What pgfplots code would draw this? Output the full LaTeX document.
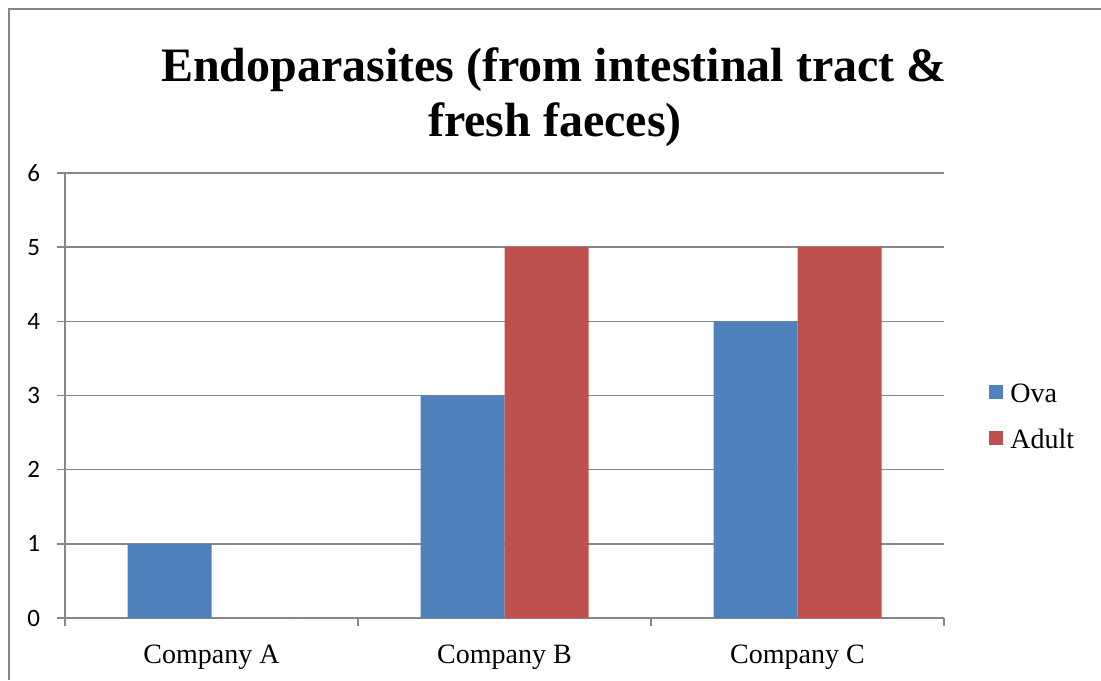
\documentclass[border=0pt]{standalone}
\usepackage{fontspec}
\setmainfont{Liberation Serif}
\newfontfamily\carlito{Carlito}
\usepackage{pgfplots}
\pgfplotsset{compat=1.18}
\definecolor{ova}{HTML}{4F81BD}
\definecolor{adult}{HTML}{C0504D}
\definecolor{gridgray}{HTML}{878787}
\begin{document}
\begin{tikzpicture}
\useasboundingbox (0,0) rectangle (550.5pt,340pt);
\draw[gridgray, line width=1pt] (4.5pt,0) -- (4.5pt,335.5pt) -- (550.5pt,335.5pt);
\begin{axis}[
  at={(32.5pt,31pt)}, anchor=south west,
  scale only axis, width=439.5pt, height=222.5pt,
  ybar=0pt, bar width=42pt,
  xmin=-0.5, xmax=2.5, ymin=0, ymax=6,
  xtick={-0.5,0.5,1.5,2.5}, xticklabels={},
  extra x ticks={0,1,2},
  extra x tick labels={Company A,Company B,Company C},
  extra x tick style={tick style={draw=none}},
  ytick={0,...,6},
  ymajorgrids, grid style={gridgray, line width=0.75pt},
  axis x line*=bottom, axis y line*=left,
  axis line style={gridgray, line width=0.75pt, -},
  tick style={gridgray, line width=0.75pt},
  tick align=outside, major tick length=4pt,
  x tick label style={font=\fontsize{14}{16}\selectfont, yshift=-6pt},
  y tick label style={font=\carlito\fontsize{12.5}{14}\selectfont, xshift=-5pt},
  /pgf/number format/assume math mode=true,
  legend cell align=left,
  legend style={at={(1.0512,0.455)}, anchor=west, draw=none, fill=none,
    inner sep=0pt, font=\fontsize{14}{16}\selectfont,
    row sep=13pt, column sep=3.5pt,
    nodes={inner sep=0pt, text height=10pt, text depth=0pt}},
  legend image code/.code={\fill[#1] (0pt,-3pt) rectangle (7pt,4pt);},
]
\addplot[fill=ova, draw=none] coordinates {(0,1) (1,3) (2,4)};
\addplot[fill=adult, draw=none] coordinates {(0,0) (1,5) (2,5)};
\legend{Ova, Adult}
\end{axis}
\node[font=\bfseries\fontsize{24}{27.5}\selectfont, anchor=base] at (277pt,299pt) {Endoparasites (from intestinal tract \&};
\node[font=\bfseries\fontsize{24}{27.5}\selectfont, anchor=base] at (277.5pt,271.5pt) {fresh faeces)};
\end{tikzpicture}
\end{document}
